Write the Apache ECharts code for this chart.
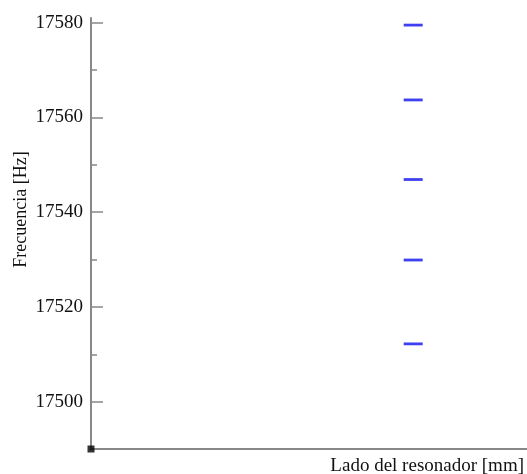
<!DOCTYPE html>
<html><head><meta charset="utf-8">
<script src="https://cdn.jsdelivr.net/npm/echarts@6/dist/echarts.min.js"></script>
<style>html,body{margin:0;padding:0;background:#fff}#c{width:527px;height:474px}</style>
</head><body><div id="c"></div>
<script>
const sideX = [7.39, 7.39, 7.39, 7.39, 7.39];
const freq = [17579.5, 17563.7, 17546.9, 17529.9, 17512.2];
const majorTicks = [17500, 17520, 17540, 17560, 17580];
const minorTicks = [17510, 17530, 17550, 17570];
const originPoint = [[0, 17490]];

const font = '"Liberation Serif", "DejaVu Serif", serif';
const chart = echarts.init(document.getElementById('c'));
chart.setOption({
  animation: false,
  grid: {left: 91, right: 0, top: 18, bottom: 25, containLabel: false, outerBoundsMode: 'none'},
  xAxis: {
    type: 'value', min: 0, max: 10,
    name: 'Lado del resonador [mm]', nameLocation: 'end', nameGap: 0, nameMoveOverlap: false,
    nameTextStyle: {fontFamily: font, fontSize: 19, color: '#111', align: 'right', verticalAlign: 'top', padding: [8, 3, 0, 0]},
    axisLine: {lineStyle: {color: '#888', width: 2}},
    axisTick: {show: false}, axisLabel: {show: false}, splitLine: {show: false}
  },
  yAxis: [{
    type: 'value', min: 17490, max: 17581, position: 'left', offset: 0,
    name: 'Frecuencia [Hz]', nameLocation: 'middle', nameGap: 61, nameMoveOverlap: false,
    nameTextStyle: {fontFamily: font, fontSize: 18, color: '#111', padding: [0, 0, 0, 48]},
    axisLine: {show: true, lineStyle: {color: '#888', width: 2}},
    axisTick: {show: true, inside: true, length: 12, customValues: majorTicks, lineStyle: {color: '#888', width: 1.5}},
    axisLabel: {fontFamily: font, fontSize: 19, color: '#111', margin: 8, customValues: majorTicks, formatter: v => String(v)},
    splitLine: {show: false}
  }, {
    type: 'value', min: 17490, max: 17581, position: 'left', offset: 0,
    axisLine: {show: false},
    axisTick: {show: true, inside: true, length: 6, customValues: minorTicks, lineStyle: {color: '#888', width: 1.5}},
    axisLabel: {show: false}, splitLine: {show: false}
  }],
  series: [{
    type: 'scatter', yAxisIndex: 0,
    data: sideX.map((x, i) => [x, freq[i]]),
    symbol: 'rect', symbolSize: [19, 2.8],
    itemStyle: {color: '#1010f0'}
  }, {
    type: 'scatter', yAxisIndex: 0,
    data: originPoint, symbol: 'rect', symbolSize: 7,
    itemStyle: {color: '#000'}
  }]
});
</script></body></html>
